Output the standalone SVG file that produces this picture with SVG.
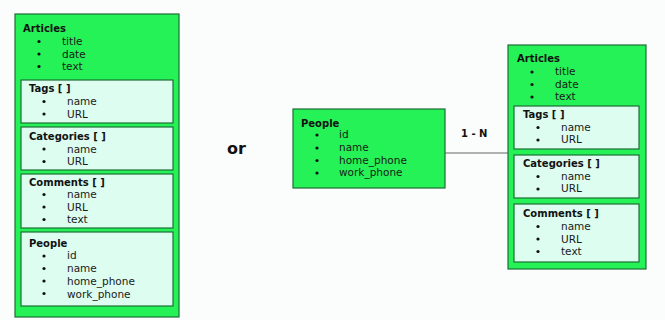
<svg xmlns="http://www.w3.org/2000/svg" width="665" height="320" viewBox="0 0 665 320">
  <style>
    .outer { fill: #25f256; stroke: #1d6e35; stroke-width: 1.2; }
    .inner { fill: #dcfdf0; stroke: #1d6e35; stroke-width: 1.2; }
    .title { font-family: "DejaVu Sans", sans-serif; font-weight: bold; font-size: 10px; fill: #111; }
    .item { font-family: "DejaVu Sans", sans-serif; font-size: 10.5px; fill: #1a1a1a; }
    .dot { fill: #111; }
    .conn { stroke: #666; stroke-width: 1.2; fill: none; }
    .label { font-family: "DejaVu Sans", sans-serif; font-weight: bold; font-size: 10px; fill: #111; }
    .or { font-family: "DejaVu Sans", sans-serif; font-weight: bold; font-size: 16px; fill: #111; }
  </style>
  <rect width="665" height="320" fill="#fbfdfc"/>

  <!-- Embedded model: everything nested inside Articles -->
  <g id="articles-embedded">
    <rect class="outer" x="15" y="14" width="164" height="303"/>
    <text class="title" x="23" y="32">Articles</text>
    <circle class="dot" cx="39" cy="41.5" r="1.6"/><text class="item" x="62" y="45">title</text>
    <circle class="dot" cx="39" cy="54" r="1.6"/><text class="item" x="62" y="58">date</text>
    <circle class="dot" cx="39" cy="66.5" r="1.6"/><text class="item" x="62" y="70">text</text>

    <g id="tags-embedded">
      <rect class="inner" x="21" y="80" width="152" height="43"/>
      <text class="title" x="29" y="92">Tags [ ]</text>
      <circle class="dot" cx="44" cy="101.5" r="1.6"/><text class="item" x="67" y="105">name</text>
      <circle class="dot" cx="44" cy="114" r="1.6"/><text class="item" x="67" y="118">URL</text>
    </g>

    <g id="categories-embedded">
      <rect class="inner" x="21" y="127" width="152" height="43"/>
      <text class="title" x="29" y="140">Categories [ ]</text>
      <circle class="dot" cx="44" cy="149" r="1.6"/><text class="item" x="67" y="153">name</text>
      <circle class="dot" cx="44" cy="161.5" r="1.6"/><text class="item" x="67" y="165">URL</text>
    </g>

    <g id="comments-embedded">
      <rect class="inner" x="21" y="174" width="152" height="54"/>
      <text class="title" x="29" y="186">Comments [ ]</text>
      <circle class="dot" cx="44" cy="194.5" r="1.6"/><text class="item" x="67" y="198">name</text>
      <circle class="dot" cx="44" cy="207" r="1.6"/><text class="item" x="67" y="211">URL</text>
      <circle class="dot" cx="44" cy="219.5" r="1.6"/><text class="item" x="67" y="223">text</text>
    </g>

    <g id="people-embedded">
      <rect class="inner" x="21" y="232" width="152" height="74"/>
      <text class="title" x="29" y="247">People</text>
      <circle class="dot" cx="44" cy="256" r="1.6"/><text class="item" x="67" y="259">id</text>
      <circle class="dot" cx="44" cy="268.5" r="1.6"/><text class="item" x="67" y="272">name</text>
      <circle class="dot" cx="44" cy="281" r="1.6"/><text class="item" x="67" y="285">home_phone</text>
      <circle class="dot" cx="44" cy="293.5" r="1.6"/><text class="item" x="67" y="298">work_phone</text>
    </g>
  </g>

  <text class="or" x="227" y="154">or</text>

  <!-- Referenced model: People linked to Articles -->
  <g id="connectors">
    <line class="conn" x1="445" y1="153" x2="508" y2="153"/>
    <text class="label" x="461" y="137">1 - N</text>
  </g>

  <g id="people">
    <rect class="outer" x="293" y="109" width="152" height="79"/>
    <text class="title" x="301" y="127">People</text>
    <circle class="dot" cx="317" cy="135" r="1.6"/><text class="item" x="339" y="138">id</text>
    <circle class="dot" cx="317" cy="148" r="1.6"/><text class="item" x="339" y="151">name</text>
    <circle class="dot" cx="317" cy="160.5" r="1.6"/><text class="item" x="339" y="164">home_phone</text>
    <circle class="dot" cx="317" cy="173" r="1.6"/><text class="item" x="339" y="176">work_phone</text>
  </g>

  <g id="articles">
    <rect class="outer" x="508" y="45" width="138" height="224"/>
    <text class="title" x="517" y="62">Articles</text>
    <circle class="dot" cx="532" cy="72" r="1.6"/><text class="item" x="555" y="75">title</text>
    <circle class="dot" cx="532" cy="84.5" r="1.6"/><text class="item" x="555" y="88">date</text>
    <circle class="dot" cx="532" cy="97" r="1.6"/><text class="item" x="555" y="100">text</text>

    <g id="tags">
      <rect class="inner" x="514" y="106" width="125" height="43"/>
      <text class="title" x="523" y="118">Tags [ ]</text>
      <circle class="dot" cx="538" cy="127.5" r="1.6"/><text class="item" x="561" y="131">name</text>
      <circle class="dot" cx="538" cy="140" r="1.6"/><text class="item" x="561" y="143">URL</text>
    </g>

    <g id="categories">
      <rect class="inner" x="514" y="155" width="125" height="43"/>
      <text class="title" x="523" y="167">Categories [ ]</text>
      <circle class="dot" cx="538" cy="176.5" r="1.6"/><text class="item" x="561" y="180">name</text>
      <circle class="dot" cx="538" cy="189" r="1.6"/><text class="item" x="561" y="192">URL</text>
    </g>

    <g id="comments">
      <rect class="inner" x="514" y="204" width="125" height="58"/>
      <text class="title" x="523" y="217">Comments [ ]</text>
      <circle class="dot" cx="538" cy="226.5" r="1.6"/><text class="item" x="561" y="230">name</text>
      <circle class="dot" cx="538" cy="239" r="1.6"/><text class="item" x="561" y="243">URL</text>
      <circle class="dot" cx="538" cy="251.5" r="1.6"/><text class="item" x="561" y="255">text</text>
    </g>
  </g>
</svg>
